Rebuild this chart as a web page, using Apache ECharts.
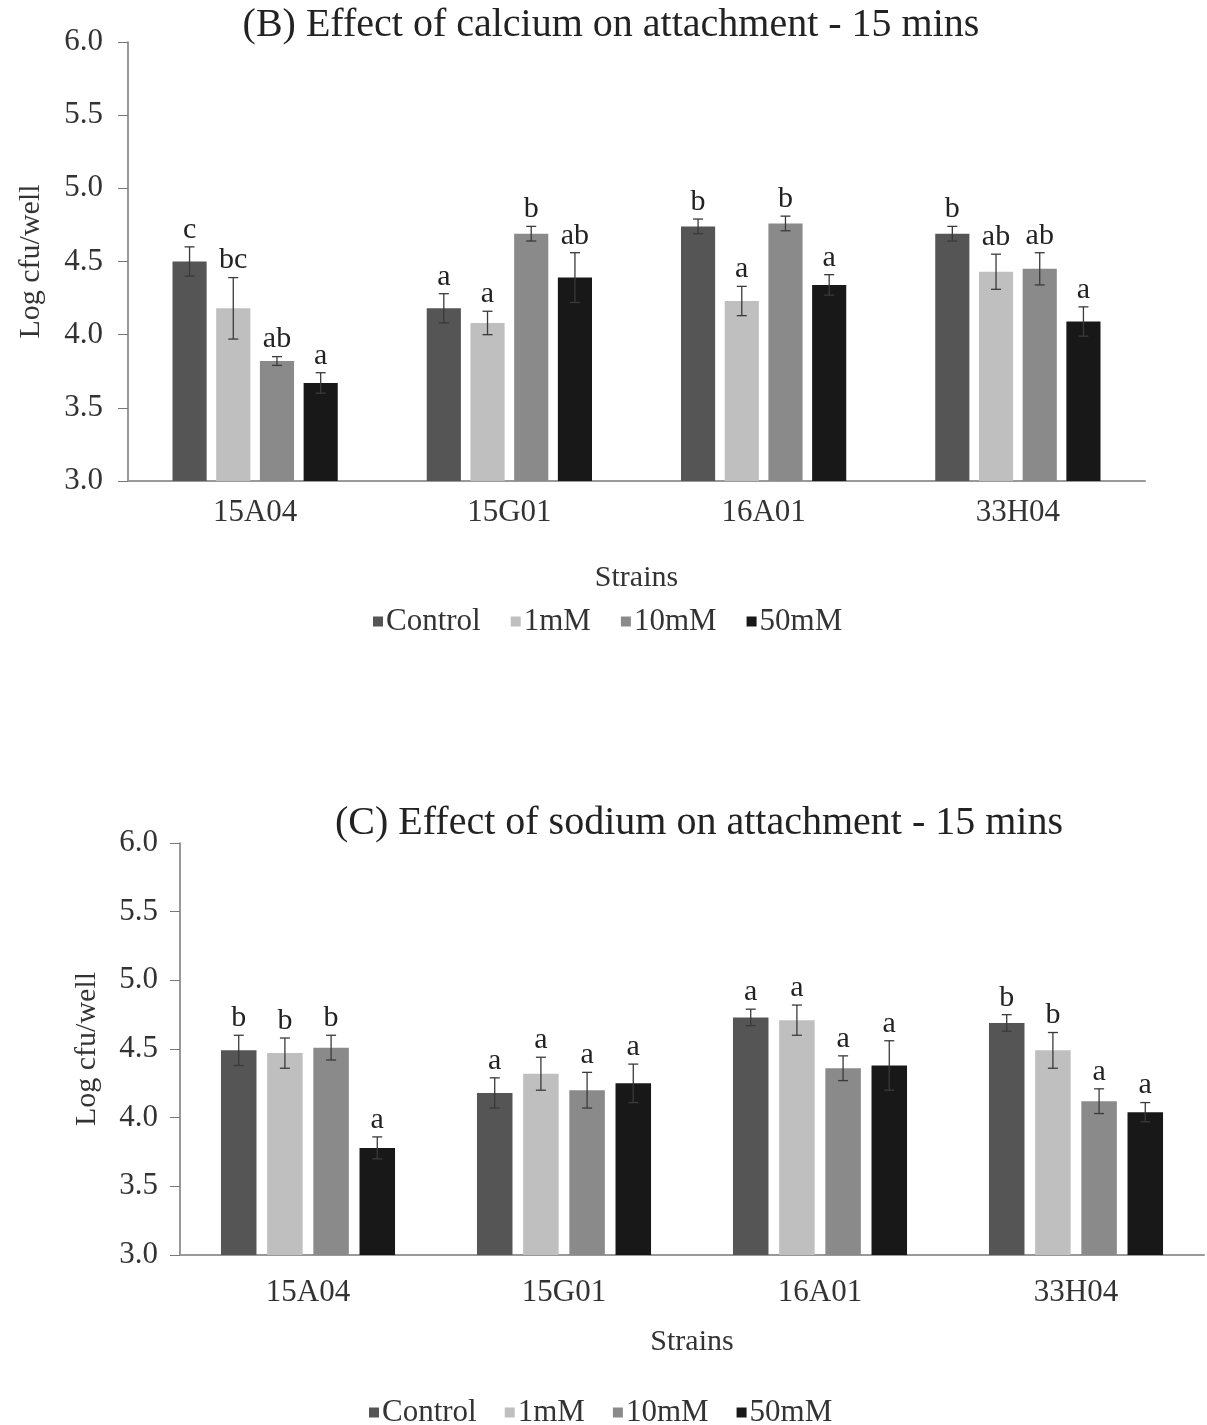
<!DOCTYPE html>
<html>
<head>
<meta charset="utf-8">
<script src="https://cdn.jsdelivr.net/npm/echarts@6/dist/echarts.min.js"></script>
<style>
  html, body { margin: 0; padding: 0; background: #fff; }
  #chart { width: 1207px; height: 1425px; }
</style>
</head>
<body>
<div id="chart"></div>
<script>
// data
const strains = ['15A04', '15G01', '16A01', '33H04'];
const treatments = ['Control', '1mM', '10mM', '50mM'];
const yTicks = [3.0, 3.5, 4.0, 4.5, 5.0, 5.5, 6.0];

// (B) calcium
const caControl = [4.50, 4.18, 4.74, 4.69];
const ca1mM     = [4.18, 4.08, 4.23, 4.43];
const ca10mM    = [3.82, 4.69, 4.76, 4.45];
const ca50mM    = [3.67, 4.39, 4.34, 4.09];
const caErrControl = [0.10, 0.10, 0.05, 0.05];
const caErr1mM     = [0.21, 0.08, 0.10, 0.12];
const caErr10mM    = [0.03, 0.05, 0.05, 0.11];
const caErr50mM    = [0.07, 0.17, 0.07, 0.10];
const caLetControl = ['c', 'a', 'b', 'b'];
const caLet1mM     = ['bc', 'a', 'a', 'ab'];
const caLet10mM    = ['ab', 'b', 'b', 'ab'];
const caLet50mM    = ['a', 'ab', 'a', 'a'];

// (C) sodium
const naControl = [4.49, 4.18, 4.73, 4.69];
const na1mM     = [4.47, 4.32, 4.71, 4.49];
const na10mM    = [4.51, 4.20, 4.36, 4.12];
const na50mM    = [3.78, 4.25, 4.38, 4.04];
const naErrControl = [0.11, 0.11, 0.06, 0.06];
const naErr1mM     = [0.11, 0.12, 0.11, 0.13];
const naErr10mM    = [0.09, 0.13, 0.09, 0.09];
const naErr50mM    = [0.08, 0.14, 0.18, 0.07];
const naLetControl = ['b', 'a', 'a', 'b'];
const naLet1mM     = ['b', 'a', 'a', 'b'];
const naLet10mM    = ['b', 'a', 'a', 'a'];
const naLet50mM    = ['a', 'a', 'a', 'a'];

const colors = ['#555555', '#bfbfbf', '#8a8a8a', '#181818'];
const serif = '"Liberation Serif", "Times New Roman", serif';

const panels = [
    {
        means: [caControl, ca1mM, ca10mM, ca50mM],
        errs: [caErrControl, caErr1mM, caErr10mM, caErr50mM],
        letters: [caLetControl, caLet1mM, caLet10mM, caLet50mM],
        catGap: 0.35, barGap: 0.28
    },
    {
        means: [naControl, na1mM, na10mM, na50mM],
        errs: [naErrControl, naErr1mM, naErr10mM, naErr50mM],
        letters: [naLetControl, naLet1mM, naLet10mM, naLet50mM],
        catGap: 0.32, barGap: 0.30
    }
];

const chart = echarts.init(document.getElementById('chart'));

function errorRenderer(p, idx) {
    const panel = panels[p];
    const n = treatments.length;
    return function (params, api) {
        const cat = api.value(0);
        const mean = api.value(1);
        const err = api.value(2);
        const band = api.size([1, 0])[0];
        const bw = band * (1 - panel.catGap) / (n + (n - 1) * panel.barGap);
        const total = bw * n + bw * panel.barGap * (n - 1);
        const off = -total / 2 + idx * bw * (1 + panel.barGap) + bw / 2;
        const top = api.coord([cat, mean + err]);
        const bot = api.coord([cat, mean - err]);
        const x = top[0] + off;
        const cap = 5;
        const line = { stroke: '#3a3a3a', lineWidth: 1.3 };
        return {
            type: 'group',
            children: [
                { type: 'line', shape: { x1: x, y1: top[1], x2: x, y2: bot[1] }, style: line },
                { type: 'line', shape: { x1: x - cap, y1: top[1], x2: x + cap, y2: top[1] }, style: line },
                { type: 'line', shape: { x1: x - cap, y1: bot[1], x2: x + cap, y2: bot[1] }, style: line },
                {
                    type: 'text',
                    style: {
                        text: panel.letters[idx][params.dataIndex],
                        x: x, y: top[1] - 2,
                        align: 'center', verticalAlign: 'bottom',
                        fontSize: 30, fontFamily: serif, fill: '#222'
                    }
                }
            ]
        };
    };
}

function makeXAxis(gridIndex, margin, gap) {
    return {
        type: 'category', gridIndex: gridIndex, data: strains,
        axisLine: { lineStyle: { color: '#999', width: 2 } },
        axisTick: { show: false },
        axisLabel: { color: '#333', fontSize: 31, fontFamily: serif, margin: margin },
        name: 'Strains', nameLocation: 'middle', nameGap: gap,
        nameTextStyle: { color: '#333', fontSize: 30, fontFamily: serif }
    };
}

function makeYAxis(gridIndex, margin, gap) {
    return {
        type: 'value', gridIndex: gridIndex,
        min: yTicks[0], max: yTicks[yTicks.length - 1], interval: 0.5,
        axisLine: { show: true, lineStyle: { color: '#777', width: 1.5 } },
        axisTick: { show: true, length: 10, lineStyle: { color: '#777' } },
        splitLine: { show: false },
        axisLabel: {
            color: '#333', fontSize: 31, fontFamily: serif, margin: margin,
            formatter: v => v.toFixed(1)
        },
        name: 'Log cfu/well', nameLocation: 'middle', nameGap: gap,
        nameTextStyle: { color: '#333', fontSize: 30, fontFamily: serif }
    };
}

const series = [];
panels.forEach((panel, p) => {
    treatments.forEach((name, i) => {
        series.push({
            name: name, type: 'bar',
            xAxisIndex: p, yAxisIndex: p,
            data: panel.means[i],
            itemStyle: { color: colors[i] },
            barCategoryGap: (panel.catGap * 100) + '%',
            barGap: (panel.barGap * 100) + '%'
        });
    });
    treatments.forEach((name, i) => {
        series.push({
            name: 'err-' + p + '-' + name, type: 'custom',
            xAxisIndex: p, yAxisIndex: p, z: 5,
            renderItem: errorRenderer(p, i),
            encode: { x: 0, y: 1 },
            data: panel.means[i].map((m, k) => [k, m, panel.errs[i][k]])
        });
    });
});

function makeLegend(left, top, gap) {
    return {
        data: treatments, left: left, top: top,
        icon: 'rect', itemWidth: 10, itemHeight: 10, itemGap: gap,
        textStyle: { color: '#333', fontSize: 31, fontFamily: serif, padding: [0, 0, 0, -2] }
    };
}

const option = {
    animation: false,
    graphic: [
        {
            type: 'text', x: 611, y: 25,
            style: {
                text: '(B) Effect of calcium on attachment - 15 mins',
                align: 'center', verticalAlign: 'middle',
                fontSize: 40, fontFamily: serif, fill: '#222'
            }
        },
        {
            type: 'text', x: 699, y: 823,
            style: {
                text: '(C) Effect of sodium on attachment - 15 mins',
                align: 'center', verticalAlign: 'middle',
                fontSize: 40, fontFamily: serif, fill: '#222'
            }
        }
    ],
    legend: [makeLegend(368, 601, 30), makeLegend(364, 1392, 28)],
    grid: [
        { left: 128, right: 62, top: 42, bottom: 944 },
        { left: 180, right: 3, top: 843, bottom: 170 }
    ],
    xAxis: [makeXAxis(0, 16, 82), makeXAxis(1, 22, 72)],
    yAxis: [makeYAxis(0, 25, 82), makeYAxis(1, 22, 78)],
    series: series
};

chart.setOption(option);

window.addEventListener('resize', () => {
    chart.resize();
});
</script>
</body>
</html>
